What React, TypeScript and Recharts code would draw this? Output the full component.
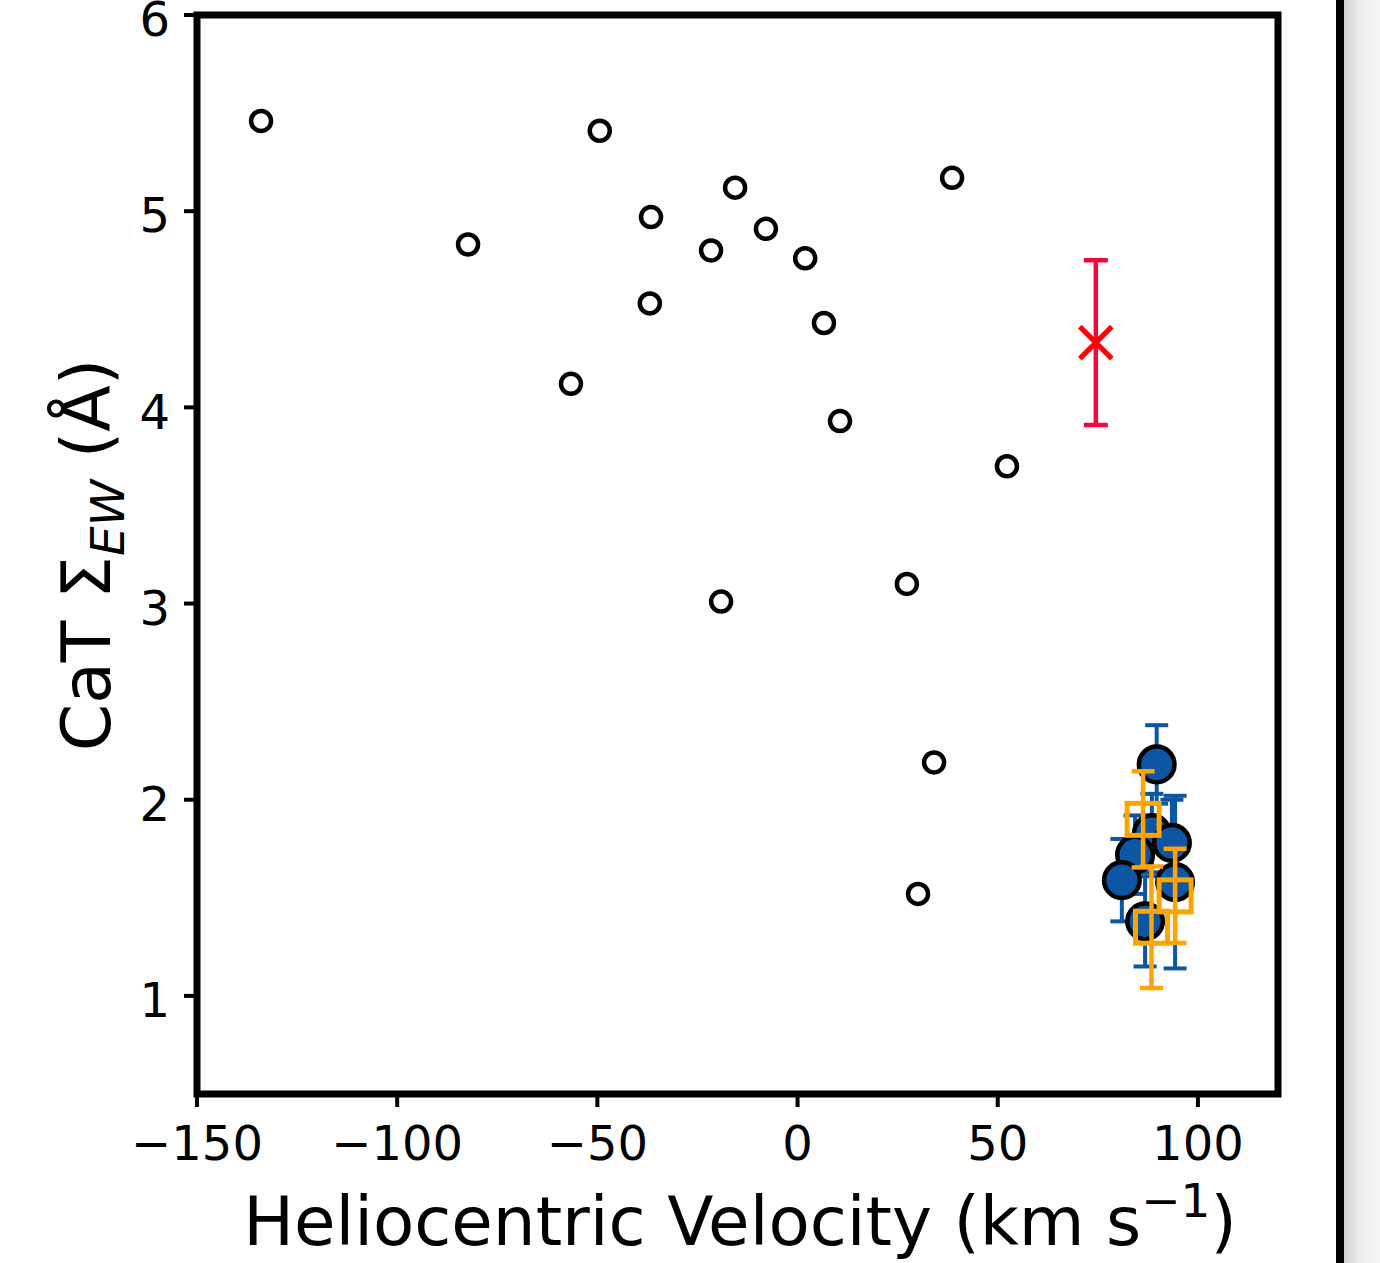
import React from 'react';
import { ScatterChart, Scatter, XAxis, YAxis, ErrorBar, ReferenceArea } from 'recharts';

// open black circles: heliocentric velocity vs CaT sum
const fieldVel = [-134.0, -49.4, -82.3, -36.6, -15.6, -7.9, -21.6, 1.9, -36.9, 6.6, -56.6, 10.6, 38.6, 52.3, 27.3, -19.1, 34.1, 30.1];
const fieldEW = [5.46, 5.41, 4.83, 4.97, 5.12, 4.91, 4.80, 4.76, 4.53, 4.43, 4.12, 3.93, 5.17, 3.70, 3.10, 3.01, 2.19, 1.52];

// filled blue circles with errors
const memberVel = [89.7, 88.5, 93.5, 84.3, 81.0, 94.3, 86.8];
const memberEW = [2.18, 1.83, 1.78, 1.72, 1.59, 1.58, 1.38];
const memberErr = [0.2, 0.2, 0.22, 0.2, 0.21, 0.44, 0.23];

// open orange squares with errors
const sqVel = [86.3, 94.3, 88.4];
const sqEW = [1.90, 1.51, 1.35];
const sqErr = [0.245, 0.24, 0.31];

// red cross
const crossVel = [74.5];
const crossEW = [4.33];
const crossErr = [0.42];

const xTicks = [-150, -100, -50, 0, 50, 100];
const yTicks = [1, 2, 3, 4, 5, 6];

const FONT = '"DejaVu Sans", sans-serif';
const BLUE = '#0d56a3';
const ORANGE = '#ffa500';

const fieldData = fieldVel.map((v, i) => ({ v, y: fieldEW[i] }));
const memberData = memberVel.map((v, i) => ({ v, y: memberEW[i], err: memberErr[i] }));
const sqData = sqVel.map((v, i) => ({ v, y: sqEW[i], err: sqErr[i] }));
const crossData = crossVel.map((v, i) => ({ v, y: crossEW[i], err: crossErr[i] }));

const minus = (t: number) => String(t).replace('-', '\u2212');

const OpenCircle = (p: any) => (
  <circle cx={p.cx} cy={p.cy} r={10} fill="#fff" stroke="#000" strokeWidth={4.5} />
);
const BlueCircle = (p: any) => (
  <circle cx={p.cx} cy={p.cy} r={17.8} fill={BLUE} stroke="#000" strokeWidth={4.5} />
);
const OpenSquare = (p: any) => (
  <rect x={p.cx - 16} y={p.cy - 16} width={32} height={32} fill="none" stroke={ORANGE} strokeWidth={5} />
);
const RedCross = (p: any) => (
  <g stroke="#ff0000" strokeWidth={5}>
    <line x1={p.cx - 16} y1={p.cy - 16} x2={p.cx + 16} y2={p.cy + 16} />
    <line x1={p.cx - 16} y1={p.cy + 16} x2={p.cx + 16} y2={p.cy - 16} />
  </g>
);

// y tick label, centred a touch below the tick like the original
const YTick = (p: any) => (
  <text x={p.x} y={p.y + 4} dy="0.36em" textAnchor="end" fontFamily={FONT} fontSize={48} fill="#000">
    {p.payload.value}
  </text>
);

const XLabel = () => (
  <text x={740} y={1245} textAnchor="middle" fontFamily={FONT} fontSize={67.5} fill="#000">
    Heliocentric Velocity (km s
    <tspan dy={-28} fontSize={47}>{'\u22121'}</tspan>
    <tspan dy={28}>)</tspan>
  </text>
);

const YLabel = () => (
  <text
    x={110}
    y={555}
    textAnchor="middle"
    transform="rotate(-90, 110, 555)"
    fontFamily={FONT}
    fontSize={68}
    fill="#000"
  >
    CaT Σ
    <tspan dy={14} fontSize={47} fontStyle="italic">EW</tspan>
    <tspan dy={-14}> (Å)</tspan>
  </text>
);

const App = () => {
  return (
    <div style={{ position: 'absolute', left: 0, top: 0, width: 1380, height: 1263, background: '#fff' }}>
      <ScatterChart
        width={1380}
        height={1263}
        margin={{ top: 15, right: 102, left: 117, bottom: 109 }}
      >
        <XAxis
          type="number"
          dataKey="v"
          domain={[-150, 120]}
          ticks={xTicks}
          tickFormatter={minus}
          axisLine={false}
          tickLine={{ stroke: '#000', strokeWidth: 4 }}
          tickSize={13}
          tickMargin={19}
          tick={{ fill: '#000', fontSize: 48, fontFamily: FONT }}
          height={60}
          label={<XLabel />}
        />
        <YAxis
          type="number"
          dataKey="y"
          domain={[0.5, 6]}
          ticks={yTicks}
          axisLine={false}
          tickLine={{ stroke: '#000', strokeWidth: 4 }}
          tickSize={13}
          tickMargin={14}
          tick={<YTick />}
          width={80}
          label={<YLabel />}
        />
        <ReferenceArea x1={-150} x2={120} y1={0.5} y2={6} fill="none" stroke="#000" strokeWidth={7} />
        <Scatter data={fieldData} shape={OpenCircle} isAnimationActive={false} zIndex={600} />
        <Scatter data={crossData} shape={RedCross} isAnimationActive={false} zIndex={602}>
          <ErrorBar dataKey="err" direction="y" width={12} strokeWidth={4.5} stroke="#f5053a" zIndex={601} />
        </Scatter>
        <Scatter data={memberData} shape={BlueCircle} isAnimationActive={false} zIndex={604}>
          <ErrorBar dataKey="err" direction="y" width={11.5} strokeWidth={4} stroke={BLUE} zIndex={603} />
        </Scatter>
        <Scatter data={sqData} shape={OpenSquare} isAnimationActive={false} zIndex={606}>
          <ErrorBar dataKey="err" direction="y" width={11.5} strokeWidth={4.5} stroke={ORANGE} zIndex={605} />
        </Scatter>
      </ScatterChart>
      {/* edge of the neighbouring panel */}
      <div style={{ position: 'absolute', left: 1336, top: 0, width: 8, height: 1263, background: '#000' }} />
      <div
        style={{
          position: 'absolute',
          left: 1344,
          top: 0,
          width: 36,
          height: 1263,
          background: 'linear-gradient(to right, #cfcfcf, #ececec 40%, #f6f6f6)',
        }}
      />
    </div>
  );
};

export default App;
